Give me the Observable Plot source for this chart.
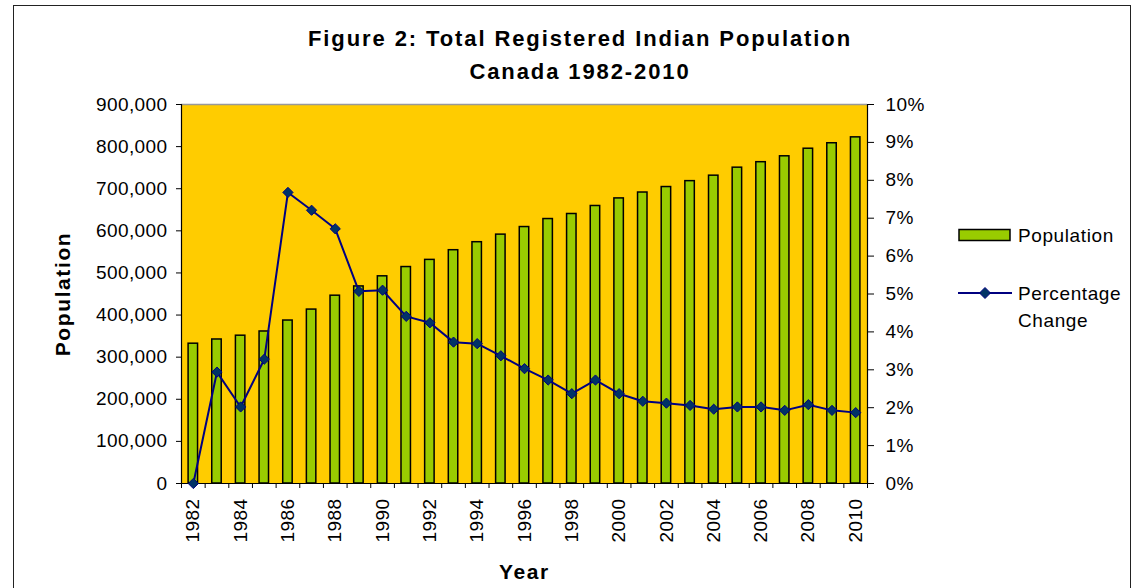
<!DOCTYPE html>
<html>
<head>
<meta charset="utf-8">
<script src="https://cdn.jsdelivr.net/npm/d3@7"></script>
<script src="https://cdn.jsdelivr.net/npm/@observablehq/plot@0.6"></script>
<style>
  html, body { margin: 0; padding: 0; background: #fff; }
  #wrap { position: relative; width: 1142px; height: 588px; overflow: hidden; font-family: Arial, "Liberation Sans", sans-serif; color: #000; }
  #border { position: absolute; left: 13px; top: 5px; width: 1118px; height: 640px; border: 1.5px solid #222; box-sizing: border-box; }
  #title { position: relative; height: 90px; box-sizing: border-box; padding-top: 22px; text-align: center; font-weight: bold; font-size: 22px; line-height: 33px; letter-spacing: 1.9px; padding-left: 18px; }
  #chart { position: relative; }
  #legend { position: absolute; left: 958px; top: 220px; font-size: 19px; letter-spacing: 0.6px; }
  .row { position: absolute; left: 0; white-space: nowrap; }
  .lab { position: absolute; left: 60px; line-height: 27px; }
</style>
</head>
<body>
<div id="wrap">
  <div id="border"></div>
  <div id="title">Figure 2: Total Registered Indian Population<br>Canada 1982-2010</div>
  <div id="chart"></div>
  <div id="legend">
    <div class="row" style="top:0px;">
      <svg width="56" height="30" style="position:absolute;left:0;top:0;"><rect x="1" y="9.5" width="51" height="11" fill="#99CC00" stroke="#000" stroke-width="1.5"></rect></svg>
      <div class="lab" style="top:1.5px;">Population</div>
    </div>
    <div class="row" style="top:58px;">
      <svg width="56" height="30" style="position:absolute;left:0;top:0;"><line x1="0" x2="54" y1="15" y2="15" stroke="#000080" stroke-width="2"></line><path d="M27,9.5L32.5,15L27,20.5L21.5,15Z" fill="#003366" stroke="#000080" stroke-width="1"></path></svg>
      <div class="lab" style="top:1.5px;">Percentage<br>Change</div>
    </div>
  </div>
</div>
<script>
// ---- data ----
const years = [1982,1983,1984,1985,1986,1987,1988,1989,1990,1991,1992,1993,1994,1995,1996,1997,1998,1999,2000,2001,2002,2003,2004,2005,2006,2007,2008,2009,2010];
const population = [332000,342000,351000,361000,387000,413000,446000,468000,492000,514000,531000,554000,573000,591000,609000,628000,640000,659000,677000,691000,704000,718000,731000,750000,763000,777000,795000,808000,822000];
const pctChange = [0.00,2.94,2.02,3.28,7.68,7.21,6.72,5.07,5.10,4.41,4.24,3.73,3.69,3.37,3.03,2.73,2.37,2.73,2.37,2.17,2.12,2.06,1.96,2.02,2.02,1.93,2.08,1.93,1.87];
const popTicks = [0,100000,200000,300000,400000,500000,600000,700000,800000,900000];
const pctTicks = [0,1,2,3,4,5,6,7,8,9,10];
const yearLabels = [1982,1984,1986,1988,1990,1992,1994,1996,1998,2000,2002,2004,2006,2008,2010];

// ---- table ----
const rows = years.map((y, i) => ({year: y, pop: population[i], pct: pctChange[i]}));
const xDomain = [years[0] - 0.5, years[years.length - 1] + 0.5];
const boundaries = years.map(y => y - 0.5).concat([xDomain[1]]);
const popMax = popTicks[popTicks.length - 1];
const pctMax = pctTicks[pctTicks.length - 1];
const pctToY = p => p * popMax / pctMax;
const half = 0.2;

const chart = Plot.plot({
  width: 1142,
  height: 498,
  marginTop: 14,
  marginBottom: 105,
  marginLeft: 181,
  marginRight: 275,
  style: {fontFamily: "Arial, 'Liberation Sans', sans-serif", fontSize: "19px", color: "#000", background: "transparent", overflow: "visible", letterSpacing: "0.4px"},
  x: {type: "linear", domain: xDomain},
  y: {domain: [0, popMax]},
  marks: [
    Plot.frame({fill: "#FFCC00", stroke: null}),
    Plot.rectY(rows, {x1: d => d.year - half, x2: d => d.year + half, y: "pop", fill: "#99CC00", stroke: "#000", strokeWidth: 1.5}),
    Plot.ruleY([popMax], {stroke: "#999", strokeWidth: 1.5}),
    Plot.ruleX([xDomain[0]], {stroke: "#000", strokeWidth: 1.2}),
    Plot.ruleX([xDomain[1]], {stroke: "#000", strokeWidth: 1.2}),
    Plot.ruleY([0], {stroke: "#000", strokeWidth: 1.2}),
    Plot.line(rows, {x: "year", y: d => pctToY(d.pct), stroke: "#000080", strokeWidth: 2}),
    Plot.dot(rows, {x: "year", y: d => pctToY(d.pct), symbol: "diamond2", r: 4.6, fill: "#003366", stroke: "#000080", strokeWidth: 1}),
    Plot.axisY({ticks: popTicks, tickFormat: d3.format(","), tickSize: 5, tickPadding: 9, label: null, fontSize: 19}),
    Plot.axisY({anchor: "right", ticks: pctTicks.map(pctToY), tickFormat: d => Math.round(d * pctMax / popMax) + "%", tickSize: 6, tickPadding: 12, label: null, fontSize: 19}),
    Plot.axisX({ticks: boundaries, tickSize: 5, tickFormat: () => "", label: null}),
    Plot.axisX({ticks: yearLabels, tickSize: 0, tickPadding: 15, tickRotate: -90, tickFormat: d => String(d), label: null, fontSize: 19}),
    Plot.text(["Year"], {frameAnchor: "bottom", dy: 95, fontWeight: "bold", fontSize: 21, textAnchor: "middle"}),
    Plot.text(["Population"], {frameAnchor: "left", dx: -118, rotate: -90, fontWeight: "bold", fontSize: 21, textAnchor: "middle"})
  ]
});
chart.querySelectorAll("text").forEach(t => { if (t.textContent === "Population" || t.textContent === "Year") t.style.letterSpacing = "1.6px"; });
document.getElementById("chart").appendChild(chart);
</script>
</body>
</html>
